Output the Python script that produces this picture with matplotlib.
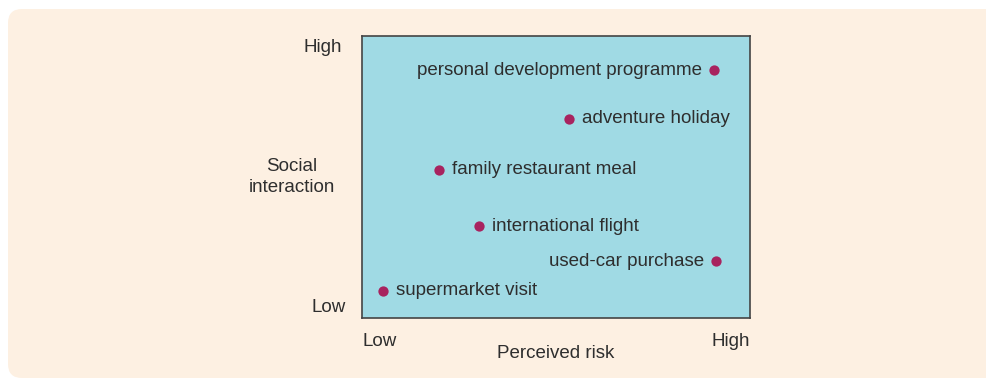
import matplotlib.pyplot as plt
from matplotlib.patches import FancyBboxPatch

# Datos (escala 0-10 en ambos ejes)
labels = ["personal development programme", "adventure holiday",
          "family restaurant meal", "international flight",
          "used-car purchase", "supermarket visit"]
risk = [9.07, 5.34, 1.98, 3.02, 9.12, 0.54]
social = [8.79, 7.06, 5.25, 3.26, 2.02, 0.96]
label_left = [True, False, False, False, True, False]

W, H = 987, 380
plt.rcParams['font.family'] = ['Liberation Sans', 'DejaVu Sans']
fig = plt.figure(figsize=(W / 100, H / 100), dpi=100)
fig.patch.set_facecolor('white')

# Fondo durazno con esquinas redondeadas (eje auxiliar en pixeles)
bgax = fig.add_axes([0, 0, 1, 1], zorder=-5)
bgax.set_xlim(0, W)
bgax.set_ylim(H, 0)
bgax.axis('off')
bgax.add_patch(FancyBboxPatch((8, 9), W + 40, 378 - 9,
                              boxstyle="round,pad=0,rounding_size=14",
                              facecolor='#fdf0e2', edgecolor='none'))

x0, x1, y0, y1 = 362, 750, 36, 318
ax = fig.add_axes([x0 / W, 1 - y1 / H, (x1 - x0) / W, (y1 - y0) / H])
ax.set_facecolor('#a0dae4')
ax.set_xlim(0, 10)
ax.set_ylim(0, 10)
ax.set_xticks([])
ax.set_yticks([])
for s in ax.spines.values():
    s.set_color('#444444')
    s.set_linewidth(1.2)

txt = '#2e2e2e'
fs = 13.5
ax.scatter(risk, social, s=55, color='#a8235f', zorder=3, linewidths=0)
for lab, xv, yv, left in zip(labels, risk, social, label_left):
    if left:
        ax.annotate(lab, (xv, yv), xytext=(-8.8, 0), textcoords='offset points',
                    ha='right', va='center', fontsize=fs, color=txt)
    else:
        ax.annotate(lab, (xv, yv), xytext=(9.2, 0), textcoords='offset points',
                    ha='left', va='center', fontsize=fs, color=txt)

def ftext(px, py, s, **kw):
    fig.text(px / W, 1 - py / H, s, fontsize=fs, color=txt, **kw)

ftext(342, 47, "High", ha='right', va='center')
ftext(346, 308, "Low", ha='right', va='center')
ftext(292, 177, "Social\ninteraction", ha='center', va='center', linespacing=1.3)
ftext(362, 342, "Low", ha='left', va='center')
ftext(750, 342, "High", ha='right', va='center')
ftext(556, 353, "Perceived risk", ha='center', va='center')

fig.savefig('out.png', dpi=100, facecolor=fig.get_facecolor())
